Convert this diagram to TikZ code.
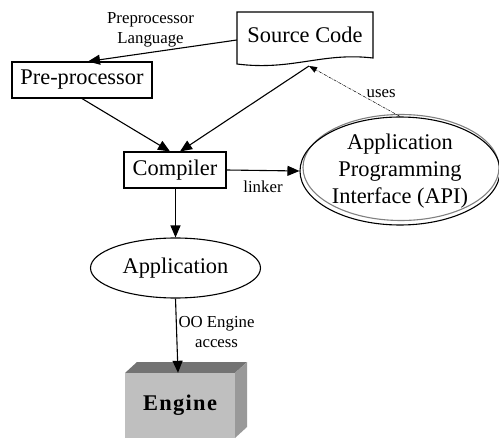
\documentclass[tikz,border=0pt]{standalone}
\usepackage{fontspec}
\setmainfont{Liberation Serif}
\usetikzlibrary{arrows.meta,shapes.geometric}

\tikzset{
  big/.style={font=\fontsize{22.4}{27}\selectfont},
  small/.style={font=\fontsize{16.8}{20}\selectfont, align=center},
  box/.style={draw, line width=1.1pt, rectangle, inner sep=0pt, big},
  oval/.style={draw, line width=1.1pt, ellipse, inner sep=0pt, big, align=center},
  flow/.style={line width=1.1pt, -{Triangle[length=12pt,width=10pt]}},
  usesline/.style={line width=0.5pt, dash pattern=on 3pt off 1pt on 0.6pt off 1pt,
    -{Triangle[length=8pt,width=6pt]}},
}

\begin{document}
\begin{tikzpicture}[x=1pt,y=-1pt]
  \useasboundingbox (0,0) rectangle (499,439);

  % Source Code: document shape with a wavy lower edge
  \draw[line width=1.1pt, fill=white]
    (237,12) -- (373,12) -- (373,58)
    .. controls (322,52) and (292,71) .. (237,64) -- cycle;
  \node[big, inner sep=0pt, minimum width=136pt, minimum height=46pt] (src) at (305,35) {Source Code};
  \coordinate (srcB) at (309,66);

  % Boxes
  \node[box, minimum width=140pt, minimum height=36pt] (pre) at (82,80) {Pre-processor};
  \node[box, minimum width=102pt, minimum height=36pt] (comp) at (175,170) {Compiler};

  % Application ellipse
  \node[oval, minimum width=170pt, minimum height=60pt] (app) at (175.5,268) {Application};

  % API: a grey outline slightly offset behind the black one
  \draw[gray, line width=1.1pt] (401,167.5) ellipse [x radius=98pt, y radius=53pt];
  \node[oval, minimum width=200pt, minimum height=108pt] (api) at (400,171)
    {Application\\Programming\\Interface (API)};

  % Engine: shaded block
  \fill[black!55] (125,373) -- (137,362) -- (247,362) -- (235,373) -- cycle;
  \fill[black!40] (235,373) -- (247,362) -- (247,427) -- (235,438) -- cycle;
  \node[fill=black!25, minimum width=110pt, minimum height=65pt, inner sep=0pt,
        font=\fontsize{22.4}{27}\selectfont\bfseries] (eng) at (180,405.5)
    {\addfontfeatures{LetterSpace=6}Engine};

  % Connectors
  \draw[flow] (src.west |- 0,40) -- (pre.north -| 88,0)
    node[small, pos=0.58, above=1pt] {Preprocessor\\Language};
  \draw[flow] (pre.south) -- ([xshift=-5pt]comp.north);
  \draw[flow] (srcB) -- ([xshift=5pt]comp.north);
  \draw[flow] (comp.east) -- (api.west)
    node[small, pos=0.5, below=6pt] {linker};
  \draw[flow] (comp.south -| app.north) -- (app.north);
  \draw[flow] (app.south) -- ([xshift=-2pt]eng.north)
    node[small, pos=0.45, right=-2pt] {OO Engine\\access};
  \draw[usesline] (api.north) -- (srcB)
    node[small, pos=0.45, right=4pt] {uses};
\end{tikzpicture}
\end{document}
